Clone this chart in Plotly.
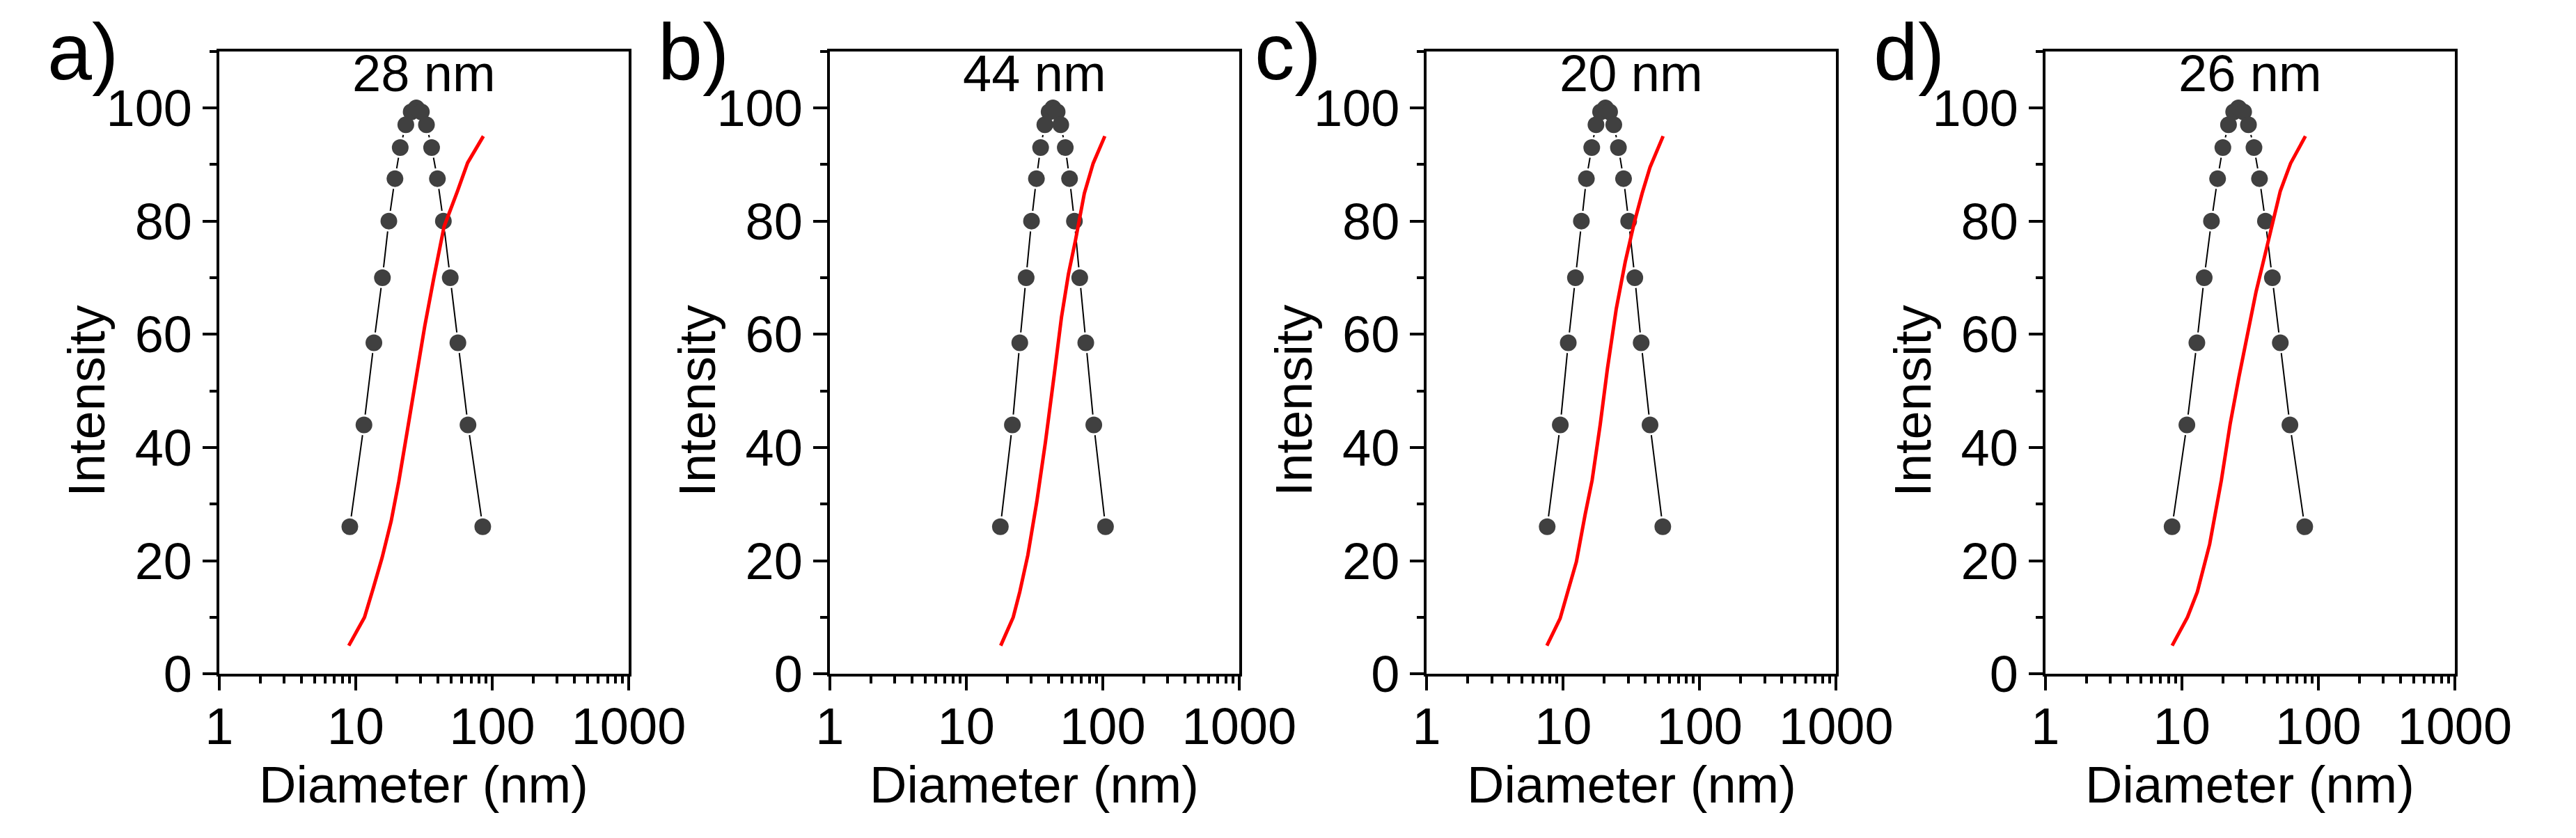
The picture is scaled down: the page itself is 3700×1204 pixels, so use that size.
import plotly.graph_objects as go

# DLS size distributions, four samples
panel_labels = ["a)", "b)", "c)", "d)"]
peak_labels = ["28 nm", "44 nm", "20 nm", "26 nm"]

# intensity of the dot series (same levels in every panel)
dot_intensity = [26, 44, 58.5, 70, 80, 87.5, 93, 97, 99.3, 100,
                 99.3, 97, 93, 87.5, 80, 70, 58.5, 44, 26]

dot_diam_a = [9.06, 11.5, 13.6, 15.7, 17.5, 19.4, 21.2, 23.3, 25.5, 27.8,
              30.3, 33.0, 36.0, 39.7, 43.9, 49.3, 56.1, 66.5, 85.3]
dot_diam_b = [17.8, 21.8, 24.7, 27.5, 30.1, 32.7, 35.1, 37.7, 40.5, 43.2,
              46.4, 49.3, 53.2, 57.2, 62.1, 67.9, 75.2, 86.1, 104.9]
dot_diam_c = [7.64, 9.53, 10.9, 12.3, 13.6, 14.8, 16.2, 17.4, 18.8, 20.4,
              21.9, 23.5, 25.4, 27.7, 30.2, 33.5, 37.3, 43.3, 53.7]
dot_diam_d = [8.49, 10.9, 12.9, 14.6, 16.5, 18.3, 20.0, 22.0, 24.0, 26.0,
              28.4, 30.8, 33.8, 37.1, 41.0, 46.1, 52.7, 62.0, 79.6]

# red (cumulative) curves
red_diam_a = [8.9, 11.6, 13.4, 15.6, 18.2, 20.7, 24.1, 28.1, 32.1, 37.4, 44.4, 55.7, 66.1, 86.2]
red_int_a = [5, 10, 15, 20.5, 27, 34, 43.5, 53, 61.5, 70, 79, 85.3, 90.3, 95]
red_diam_b = [17.9, 22.1, 24.7, 28.3, 32.9, 38.1, 44.3, 49.9, 56.1, 63.2, 73.4, 85.2, 103.7]
red_int_b = [5, 10, 14.5, 21, 30.4, 41, 53.1, 63, 70.6, 76.6, 84.9, 90.2, 95]
red_diam_c = [7.6, 9.5, 10.8, 12.5, 14.5, 16.3, 18.7, 21.1, 24.5, 28.5, 33.1, 37.9, 43.3, 54.0]
red_int_c = [5, 9.8, 14.5, 19.8, 28.2, 34.2, 44.1, 53.9, 64.5, 72.8, 79.6, 84.9, 89.5, 95]
red_diam_d = [8.5, 11.0, 13.0, 16.0, 19.5, 22.6, 26.2, 30.3, 35.0, 41.7, 52.7, 62.7, 80.5]
red_int_d = [5, 10, 14.5, 22.9, 34.2, 44.1, 52.4, 60, 67.5, 75.1, 85.3, 90.2, 95]

dot_diams = [dot_diam_a, dot_diam_b, dot_diam_c, dot_diam_d]
red_diams = [red_diam_a, red_diam_b, red_diam_c, red_diam_d]
red_ints = [red_int_a, red_int_b, red_int_c, red_int_d]

W, H = 3700, 1204
FONT = "Liberation Sans, Arial, sans-serif"
# plot area edges in pixels (left), top / bottom shared
lefts = [294, 1196, 2078, 2992]
PW = 605
TOP, BOT = 68, 995


def px(x):
    return x / W


def py(y):
    return 1 - y / H


fig = go.Figure()
annotations = []

for i in range(4):
    xa = "x" if i == 0 else "x%d" % (i + 1)
    ya = "y" if i == 0 else "y%d" % (i + 1)

    # thin connecting line
    fig.add_trace(go.Scatter(x=dot_diams[i], y=dot_intensity, mode="lines",
                             line=dict(color="black", width=2),
                             xaxis=xa, yaxis=ya, hoverinfo="skip"))
    # white halo leaves small gaps in the line round each dot
    fig.add_trace(go.Scatter(x=dot_diams[i], y=dot_intensity, mode="markers",
                             marker=dict(color="white", size=30),
                             xaxis=xa, yaxis=ya, hoverinfo="skip"))
    fig.add_trace(go.Scatter(x=dot_diams[i], y=dot_intensity, mode="markers",
                             marker=dict(color="#404040", size=24),
                             xaxis=xa, yaxis=ya))
    fig.add_trace(go.Scatter(x=red_diams[i], y=red_ints[i], mode="lines",
                             line=dict(color="#ff0000", width=5),
                             xaxis=xa, yaxis=ya))

    dom = [px(lefts[i]), px(lefts[i] + PW)]
    axis_common = dict(showline=True, linecolor="black", linewidth=4, mirror=True,
                       ticks="outside", ticklen=20, tickwidth=4, tickcolor="black",
                       showgrid=False, zeroline=False,
                       tickfont=dict(family=FONT, size=74, color="black"))
    fig.layout["xaxis" if i == 0 else "xaxis%d" % (i + 1)] = dict(
        axis_common, type="log", range=[0, 3], dtick=1, tick0=0,
        exponentformat="none", domain=dom, anchor=ya, ticklabelstandoff=-12,
        minor=dict(ticks="outside", ticklen=10, tickwidth=4, tickcolor="black",
                   dtick="D1", showgrid=False))
    fig.layout["yaxis" if i == 0 else "yaxis%d" % (i + 1)] = dict(
        axis_common, range=[0, 110], dtick=20, tick0=0,
        domain=[py(BOT), py(TOP)], anchor=xa,
        minor=dict(ticks="outside", ticklen=10, tickwidth=4, tickcolor="black",
                   dtick=10, showgrid=False))

    cx = lefts[i] + PW / 2
    annotations.append(dict(text=peak_labels[i], x=px(cx), y=py(101), xref="paper", yref="paper",
                            showarrow=False, xanchor="center", yanchor="middle",
                            font=dict(family=FONT, size=74, color="black")))
    annotations.append(dict(text="Diameter (nm)", x=px(cx), y=py(1160), xref="paper", yref="paper",
                            showarrow=False, xanchor="center", yanchor="middle",
                            font=dict(family=FONT, size=74, color="black")))
    annotations.append(dict(text="Intensity", x=px(lefts[i] - 196), y=py(588), xref="paper",
                            yref="paper", showarrow=False, textangle=-90,
                            xanchor="center", yanchor="middle",
                            font=dict(family=FONT, size=74, color="black")))
    annotations.append(dict(text=panel_labels[i], x=px(lefts[i] - 256), y=1, xref="paper",
                            yref="paper", showarrow=False, xanchor="left", yanchor="top",
                            font=dict(family=FONT, size=115, color="black")))

fig.update_layout(width=W, height=H, margin=dict(l=0, r=0, t=0, b=0),
                  paper_bgcolor="white", plot_bgcolor="white",
                  showlegend=False, annotations=annotations)

fig.write_html("out.html")
